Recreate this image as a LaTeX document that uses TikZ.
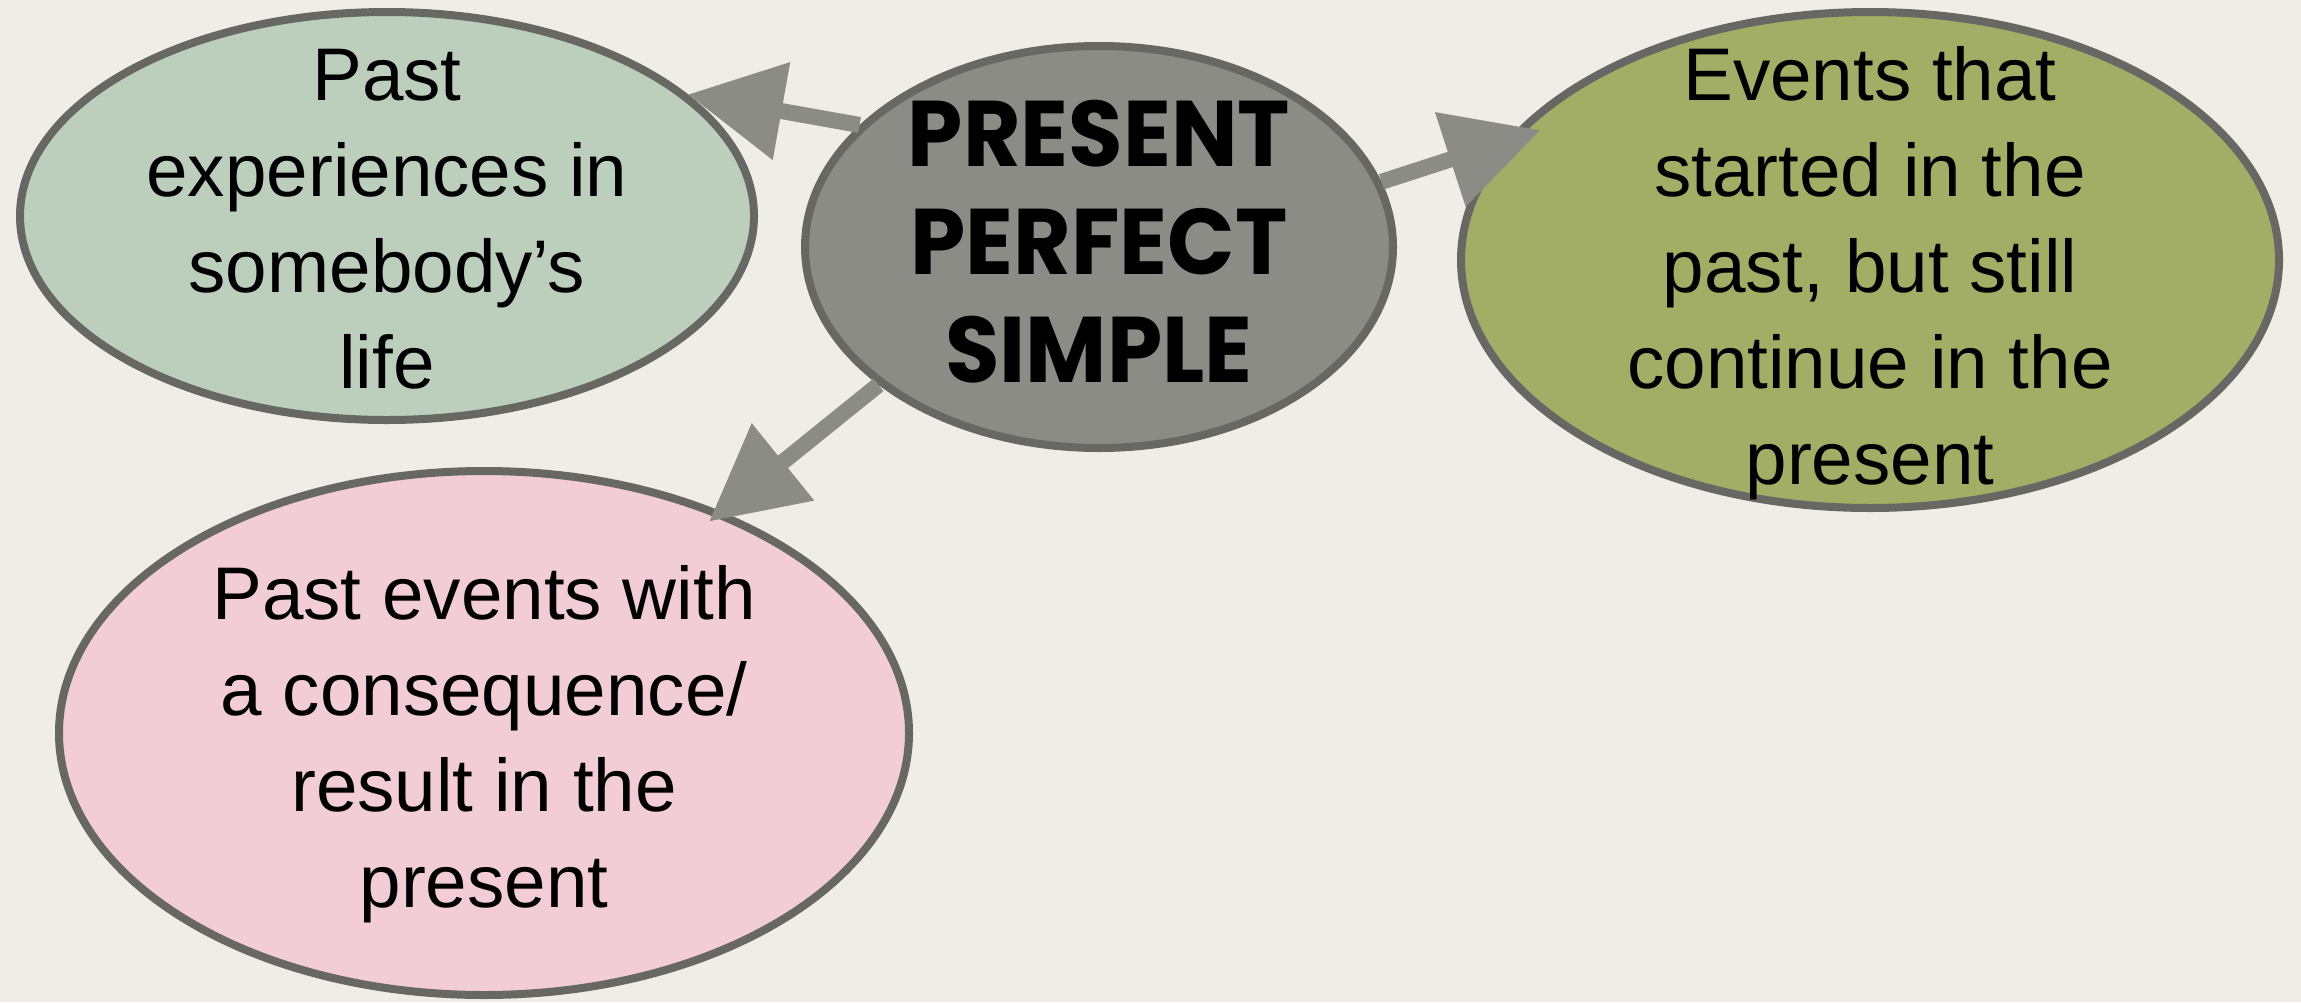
\documentclass[tikz,border=0pt]{standalone}
\usepackage{fontspec}
\setmainfont{Liberation Sans}
\newfontfamily\headfont{Poppins}[FakeStretch=0.95]
\usetikzlibrary{shapes.geometric,arrows.meta}
\definecolor{bg}{HTML}{EFEDE6}
\definecolor{edge}{HTML}{676863}
\definecolor{greenf}{HTML}{BBCFBC}
\definecolor{greyf}{HTML}{8B8C85}
\definecolor{olivef}{HTML}{A2AE66}
\definecolor{pinkf}{HTML}{F2CDD5}
\definecolor{arrowc}{HTML}{8B8C85}
\begin{document}
\begin{tikzpicture}[x=0.5pt,y=-0.5pt,
  bubble/.style={ellipse,draw=edge,line width=4pt,inner sep=0pt},
  body/.style={font=\fontsize{37.3}{48}\selectfont,align=center,text=black,inner sep=0pt},
  head/.style={font=\headfont\bfseries\fontsize{46.6}{54}\selectfont,align=center,text=black,inner sep=0pt},
  link/.style={draw=arrowc,line width=8pt,-{Triangle[length=47.5pt,width=47.5pt]}}]
\fill[bg] (0,0) rectangle (2301,1002);
\useasboundingbox (0,0) rectangle (2301,1002);

\node[bubble,fill=greenf,minimum width=367pt,minimum height=204pt] (past) at (387,216) {};
\node[bubble,fill=greyf,minimum width=294pt,minimum height=201pt] (pps) at (1099,247) {};
\node[bubble,fill=olivef,minimum width=409pt,minimum height=248pt] (olive) at (1870,260) {};
\node[bubble,fill=pinkf,minimum width=425pt,minimum height=262pt] (pink) at (484,733) {};

\draw[link] (pps.153) -- (past.22);
\draw[link,shorten >=-18.5pt] (pps.13.3) -- (olive.162.06);
\draw[link,shorten >=-8pt] (pps.212.8) -- (pink.43.5);

\node[body] (pastT) at (387,219) {Past\\experiences in\\somebody’s\\life};
\node[head] (ppsT) at (1099,242) {PRESENT\\PERFECT\\SIMPLE};
\node[body] (oliveT) at (1870,273) {Events that\\started in the\\past, but still\\continue in the\\present};
\node[body] (pinkT) at (484,744) {Past events with\\a consequence/\\result in the\\present};
\end{tikzpicture}
\end{document}
